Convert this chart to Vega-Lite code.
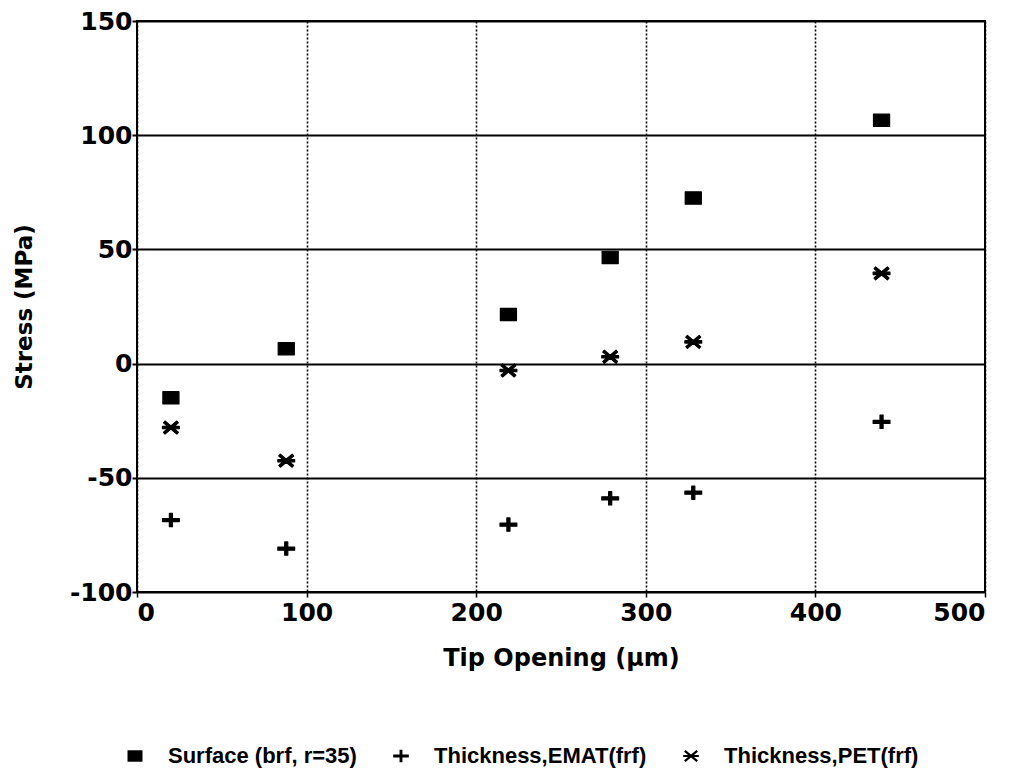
{
  "$schema": "https://vega.github.io/schema/vega-lite/v6.json",
  "width": 848,
  "height": 571,
  "autosize": "none",
  "padding": {"left": 137, "top": 21, "right": 32, "bottom": 178},
  "background": "white",
  "config": {
    "view": {"stroke": "black", "strokeWidth": 2},
    "font": "DejaVu Sans"
  },
  "data": {
    "values": [
      {"x": 20, "y": -15, "series": "Surface (brf, r=35)"},
      {"x": 88, "y": 6.5, "series": "Surface (brf, r=35)"},
      {"x": 219, "y": 21.5, "series": "Surface (brf, r=35)"},
      {"x": 279, "y": 46.5, "series": "Surface (brf, r=35)"},
      {"x": 328, "y": 72.5, "series": "Surface (brf, r=35)"},
      {"x": 439, "y": 106.5, "series": "Surface (brf, r=35)"},
      {"x": 20, "y": -68.5, "series": "Thickness,EMAT(frf)"},
      {"x": 88, "y": -81, "series": "Thickness,EMAT(frf)"},
      {"x": 219, "y": -70.5, "series": "Thickness,EMAT(frf)"},
      {"x": 279, "y": -59, "series": "Thickness,EMAT(frf)"},
      {"x": 328, "y": -56.5, "series": "Thickness,EMAT(frf)"},
      {"x": 439, "y": -25.5, "series": "Thickness,EMAT(frf)"},
      {"x": 20, "y": -28, "series": "Thickness,PET(frf)"},
      {"x": 88, "y": -42.5, "series": "Thickness,PET(frf)"},
      {"x": 219, "y": -3, "series": "Thickness,PET(frf)"},
      {"x": 279, "y": 3, "series": "Thickness,PET(frf)"},
      {"x": 328, "y": 9.5, "series": "Thickness,PET(frf)"},
      {"x": 439, "y": 39.5, "series": "Thickness,PET(frf)"}
    ]
  },
  "mark": {"type": "point", "filled": true, "fill": "black", "fillOpacity": 1, "stroke": "black", "strokeWidth": 1.2, "strokeJoin": "round", "opacity": 1, "size": 196},
  "encoding": {
    "x": {
      "field": "x", "type": "quantitative",
      "scale": {"domain": [0, 500], "nice": false, "zero": false},
      "axis": {
        "title": "Tip Opening (µm)", "values": [0, 100, 200, 300, 400, 500],
        "grid": true, "gridColor": "black", "gridWidth": 1.6, "gridDash": [2, 2], "gridOpacity": 1,
        "domain": false, "ticks": true, "tickColor": "black", "tickSize": 5, "tickWidth": 1.5,
        "labelFont": "DejaVu Sans", "labelFontWeight": "bold", "labelFontSize": 25, "labelColor": "black", "labelPadding": 3,
        "titleFont": "DejaVu Sans", "titleFontWeight": "bold", "titleFontSize": 24, "titleColor": "black",
        "titleX": 424, "titleY": 66, "titleBaseline": "middle", "titleAlign": "center"
      }
    },
    "y": {
      "field": "y", "type": "quantitative",
      "scale": {"domain": [-100, 150], "nice": false, "zero": false},
      "axis": {
        "title": "Stress (MPa)", "values": [-100, -50, 0, 50, 100, 150],
        "labelExpr": "datum.value < 0 ? '-' + abs(datum.value) : '' + datum.value",
        "grid": true, "gridColor": "black", "gridWidth": 2, "gridOpacity": 1,
        "domain": false, "ticks": true, "tickColor": "black", "tickSize": 5, "tickWidth": 2,
        "labelFont": "DejaVu Sans", "labelFontWeight": "bold", "labelFontSize": 25, "labelColor": "black", "labelPadding": 0,
        "titleFont": "DejaVu Sans", "titleFontWeight": "bold", "titleFontSize": 23, "titleColor": "black",
        "titleX": -113, "titleY": 285.5, "titleBaseline": "middle", "titleAlign": "center", "titleAngle": 270
      }
    },
    "shape": {
      "field": "series", "type": "nominal",
      "scale": {
        "domain": ["Surface (brf, r=35)", "Thickness,EMAT(frf)", "Thickness,PET(frf)"],
        "range": [
          "M-1.15,-0.88H1.15V0.88H-1.15Z",
          "M-1.2,-0.22H-0.22V-0.95H0.22V-0.22H1.2V0.22H0.22V0.95H-0.22V0.22H-1.2Z",
          "M-1.2,-0.17H1.2V0.17H-1.2ZM-1.059,-0.67L-0.841,-0.93L1.059,0.67L0.841,0.93ZM-0.841,0.93L-1.059,0.67L0.841,-0.93L1.059,-0.67Z"
        ]
      },
      "legend": {
        "title": null, "orient": "none", "direction": "horizontal",
        "legendX": -13, "legendY": 724,
        "symbolFillColor": "black", "symbolStrokeColor": "black", "symbolStrokeWidth": 1, "symbolSize": 170, "symbolOpacity": 1,
        "labelFont": "Liberation Sans", "labelFontWeight": "bold", "labelFontSize": 22, "labelColor": "black",
        "labelLimit": 400, "labelOffset": 22, "columnPadding": 33
      }
    }
  }
}
